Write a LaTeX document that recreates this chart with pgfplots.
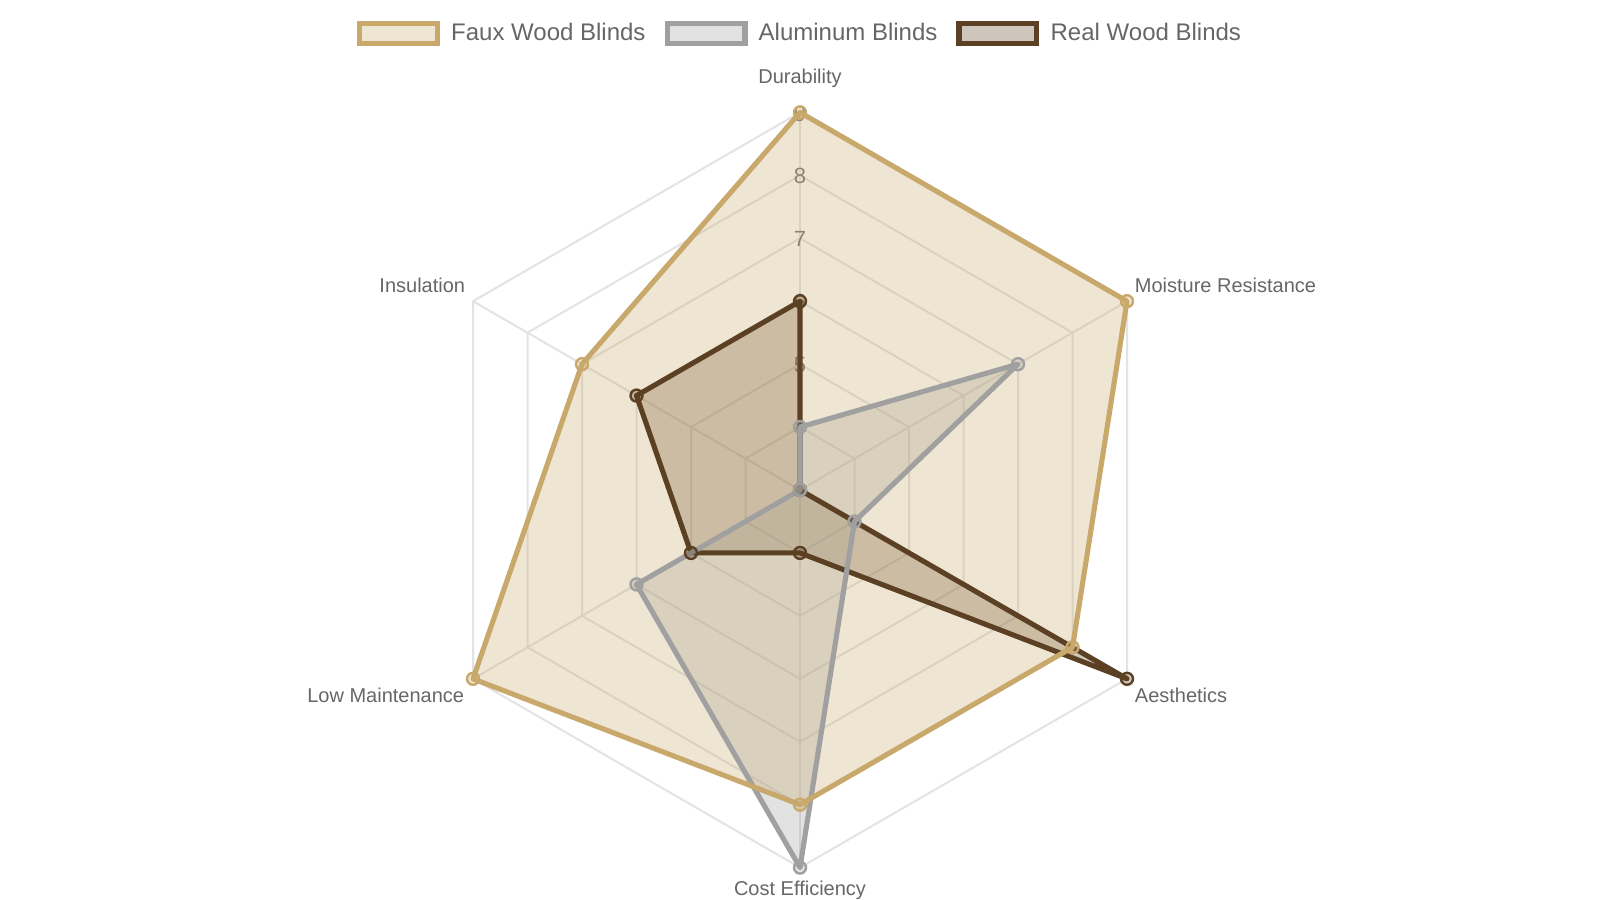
\documentclass[border=0pt]{standalone}
\usepackage{fontspec}
\setmainfont{Liberation Sans}
\usepackage{pgfplots}
\pgfplotsset{compat=1.18}
\usepackage{pgfplotstable}

\definecolor{faux}{HTML}{C8A86B}
\definecolor{alu}{HTML}{A0A0A0}
\definecolor{real}{HTML}{5C4023}
\definecolor{txt}{HTML}{666666}
\definecolor{gridc}{HTML}{E3E3E3}

% angle (deg) and score, one table per series
\pgfplotstableread{
a   v
90  9
30  9
-30 8
-90 8
210 9
150 7
}\faux
\pgfplotstableread{
a   v
90  4
30  7
-30 4
-90 9
210 6
150 3
}\alu
\pgfplotstableread{
a   v
90  6
30  3
-30 9
-90 4
210 5
150 6
}\real

% 1 px = 0.5bp; centre at (800,410), 62.93 px per unit, scale starts at 3
\newcommand{\rx}[2]{{800+62.93*(#2-3)*cos(#1)}}
\newcommand{\ry}[2]{{410+62.93*(#2-3)*sin(#1)}}
\pgfplotsset{
  table/radar/.style={x expr=\rx{\thisrow{a}}{\thisrow{v}}, y expr=\ry{\thisrow{a}}{\thisrow{v}}},
  area/.style={draw=none, fill=#1, fill opacity=0.3, mark=none, forget plot},
  edge/.style={draw=#1, fill=none, line width=2.55bp, line join=round,
    mark=*, mark size=3bp, forget plot,
    mark options={draw=#1, fill=#1, fill opacity=0.3, line width=1.2bp}},
}

\begin{document}
\begin{tikzpicture}
\begin{axis}[
    at={(0,0)}, anchor=south west,
    scale only axis,
    width=800bp, height=450bp,
    xmin=0, xmax=1600, ymin=0, ymax=900,
    hide axis, clip=false,
    font=\fontsize{10bp}{12bp}\selectfont,
    legend columns=3,
    legend style={at={(axis cs:799,866.5)}, anchor=center, draw=none, fill=none,
        font=\fontsize{12bp}{14bp}\selectfont, text=txt,
        nodes={inner xsep=0pt},
        /tikz/every odd column/.append style={column sep=5.6bp},
        /tikz/every even column/.append style={column sep=9.5bp}},
    legend image code/.code={\draw[#1, mark=none] (1.25bp,-5bp) rectangle (40.2bp,5bp);},
]
% hexagonal grid rings and spokes
\pgfplotsinvokeforeach{4,5,6,7,8,9}{
  \draw[gridc, line width=1bp]
    (axis cs:\rx{90}{#1},\ry{90}{#1}) -- (axis cs:\rx{30}{#1},\ry{30}{#1})
    -- (axis cs:\rx{-30}{#1},\ry{-30}{#1}) -- (axis cs:\rx{-90}{#1},\ry{-90}{#1})
    -- (axis cs:\rx{210}{#1},\ry{210}{#1}) -- (axis cs:\rx{150}{#1},\ry{150}{#1}) -- cycle;
}
\pgfplotsinvokeforeach{90,30,-30,-90,210,150}{
  \draw[gridc, line width=1bp] (axis cs:800,410) -- (axis cs:\rx{#1}{9},\ry{#1}{9});
}
% radial tick labels
\pgfplotsinvokeforeach{4,5,6,7,8,9}{
  \node[text=black!55, yshift=-0.5bp, font=\fontsize{11bp}{13bp}\selectfont] at (axis cs:800,\ry{90}{#1}) {#1};
}
% category labels
\node[text=txt, anchor=center] at (axis cs:800,821.5) {Durability};
\node[text=txt, anchor=west, inner sep=0pt] at (axis cs:1134.5,614.5) {Moisture Resistance};
\node[text=txt, anchor=west, inner sep=0pt] at (axis cs:1134.5,205) {Aesthetics};
\node[text=txt, anchor=center] at (axis cs:800,9.5) {Cost Efficiency};
\node[text=txt, anchor=east, inner sep=0pt] at (axis cs:464.5,205) {Low Maintenance};
\node[text=txt, anchor=east, inner sep=0pt] at (axis cs:465.5,614.5) {Insulation};

% fills first, then outlines; the first series ends on top
\addplot[area=real] table[radar] {\real} -- cycle;
\addplot[area=alu]  table[radar] {\alu} -- cycle;
\addplot[area=faux] table[radar] {\faux} -- cycle;
\addplot[edge=real] table[radar] {\real} -- cycle;
\addplot[edge=alu]  table[radar] {\alu} -- cycle;
\addplot[edge=faux] table[radar] {\faux} -- cycle;

\addlegendimage{draw=faux, fill=faux!30, line width=2.55bp}
\addlegendentry{Faux Wood Blinds}
\addlegendimage{draw=alu, fill=alu!30, line width=2.55bp}
\addlegendentry{Aluminum Blinds}
\addlegendimage{draw=real, fill=real!30, line width=2.55bp}
\addlegendentry{Real Wood Blinds}
\end{axis}
\pgfresetboundingbox
\path (0,0) rectangle (800bp,450bp);
\end{tikzpicture}
\end{document}
